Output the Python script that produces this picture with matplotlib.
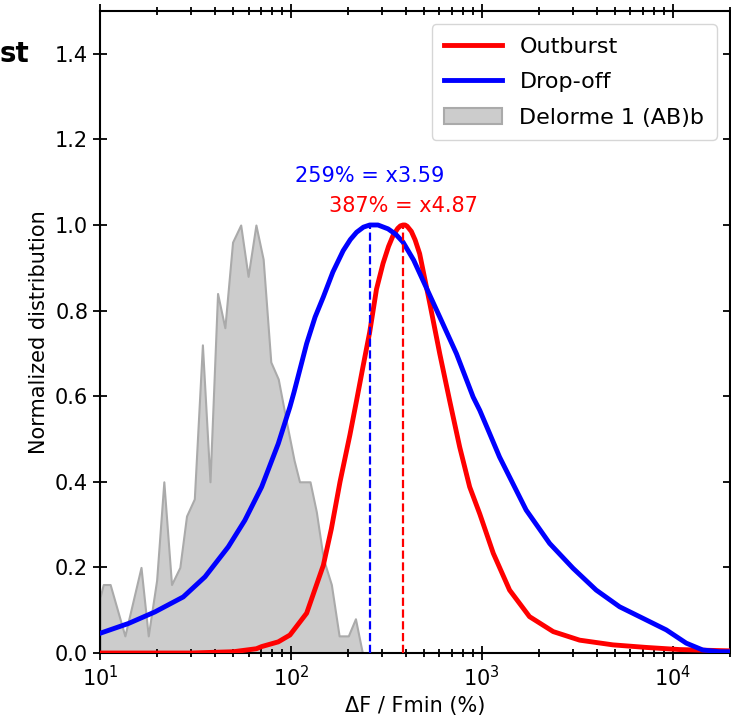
import numpy as np
import matplotlib
matplotlib.use("Agg")
import matplotlib.pyplot as plt

# --- datos ---
# Delorme 1 (AB)b: histograma normalizado
delorme_x = [10.0, 10.4, 11.3, 13.5, 16.4, 17.9, 19.8, 21.6, 23.7, 26.2, 28.4, 31.2,
             34.4, 37.7, 41.3, 45.1, 49.5, 54.6, 59.7, 65.6, 71.6, 78.5, 85.9, 94.8,
             104, 111, 126, 136, 148, 163, 179, 200, 218, 237]
delorme_y = [0.13, 0.16, 0.16, 0.04, 0.20, 0.04, 0.17, 0.40, 0.16, 0.20, 0.32, 0.36,
             0.72, 0.40, 0.84, 0.76, 0.96, 1.00, 0.88, 1.00, 0.92, 0.68, 0.64, 0.54,
             0.45, 0.40, 0.40, 0.33, 0.22, 0.16, 0.04, 0.04, 0.08, 0.0]

# Outburst (rojo)
outburst_x = [10, 30, 50, 66, 70.3, 85.9, 98.9, 121, 148, 163, 181, 204, 221, 239,
              259, 281, 304, 325, 343, 363, 375, 387, 397, 407, 428, 448, 473, 535,
              603, 679, 767, 865, 977, 1150, 1400, 1780, 2370, 3260, 4870, 7280,
              10900, 20000]
outburst_y = [0.0, 0.0, 0.003, 0.01, 0.015, 0.026, 0.042, 0.093, 0.205, 0.29, 0.40,
              0.51, 0.59, 0.67, 0.75, 0.85, 0.91, 0.95, 0.975, 0.992, 0.998, 1.0,
              1.0, 0.997, 0.985, 0.965, 0.933, 0.816, 0.699, 0.59, 0.481, 0.388,
              0.325, 0.233, 0.147, 0.085, 0.050, 0.030, 0.019, 0.013, 0.008, 0.005]

# Drop-off (azul)
dropoff_x = [10, 14.1, 19.4, 27.3, 35.5, 47.0, 57.4, 70.3, 85.9, 98.9, 104, 121, 134,
             148, 166, 188, 205, 221, 240, 259, 286, 323, 355, 387, 440, 493, 603,
             738, 902, 977, 1100, 1240, 1710, 2270, 3010, 3980, 5280, 7000, 9270,
             11800, 14400, 17600, 20000]
dropoff_y = [0.046, 0.069, 0.096, 0.131, 0.178, 0.248, 0.310, 0.388, 0.489, 0.575,
             0.61, 0.723, 0.785, 0.832, 0.89, 0.940, 0.966, 0.983, 0.995, 1.0, 1.0,
             0.991, 0.978, 0.960, 0.918, 0.870, 0.785, 0.699, 0.598, 0.567, 0.513,
             0.458, 0.334, 0.256, 0.198, 0.147, 0.108, 0.081, 0.054, 0.023, 0.007,
             0.003, 0.003]

# picos (mediana) y factores
pico_drop, factor_drop = 259, 3.59
pico_out, factor_out = 387, 4.87

FS = 15
plt.rcParams['font.family'] = ['DejaVu Sans']
plt.rcParams['mathtext.fontset'] = 'dejavusans'

fig = plt.figure(figsize=(7.31, 7.25), dpi=100)
ax = fig.add_axes([100 / 731, 72 / 725, 630 / 731, 642 / 725])

ax.fill_between(delorme_x, 0, delorme_y, facecolor='#cccccc', edgecolor='#aaaaaa',
                lw=1.5, label='Delorme 1 (AB)b', zorder=1)
ax.plot(outburst_x, outburst_y, color='red', lw=3.5, label='Outburst', zorder=3)
ax.plot(dropoff_x, dropoff_y, color='blue', lw=3.5, label='Drop-off', zorder=3)

ax.plot([pico_drop, pico_drop], [0, 1.0], color='blue', ls='--', lw=1.6, zorder=4)
ax.plot([pico_out, pico_out], [0, 1.0], color='red', ls='--', lw=1.6, zorder=4)

ax.text(pico_drop, 1.10, f'{pico_drop}% = x{factor_drop:.2f}', color='blue',
        ha='center', va='baseline', fontsize=FS)
ax.text(pico_out, 1.03, f'{pico_out}% = x{factor_out:.2f}', color='red',
        ha='center', va='baseline', fontsize=FS)

ax.set_xscale('log')
ax.set_xlim(10, 2e4)
ax.set_ylim(0, 1.5)
ax.set_yticks(np.arange(0, 1.41, 0.2))
ax.set_xlabel('ΔF / Fmin (%)', fontsize=FS)
ax.set_ylabel('Normalized distribution', fontsize=FS)

ax.tick_params(which='both', direction='inout', top=True, right=True, labelsize=FS, width=1.3)
ax.tick_params(which='major', length=10)
ax.tick_params(which='minor', length=6)
for s in ax.spines.values():
    s.set_linewidth(1.5)

handles, labels = ax.get_legend_handles_labels()
orden = [labels.index(n) for n in ['Outburst', 'Drop-off', 'Delorme 1 (AB)b']]
ax.legend([handles[i] for i in orden], [labels[i] for i in orden],
          loc='upper right', fontsize=16, handlelength=2.6, handletextpad=0.8,
          labelspacing=0.7, borderpad=0.55, borderaxespad=0.6)

# fragmento del titulo del panel vecino (recortado)
fig.text(0.0, 0.915, 'st', fontsize=20, weight='bold', ha='left', va='baseline')

fig.savefig('out.png', dpi=100)
